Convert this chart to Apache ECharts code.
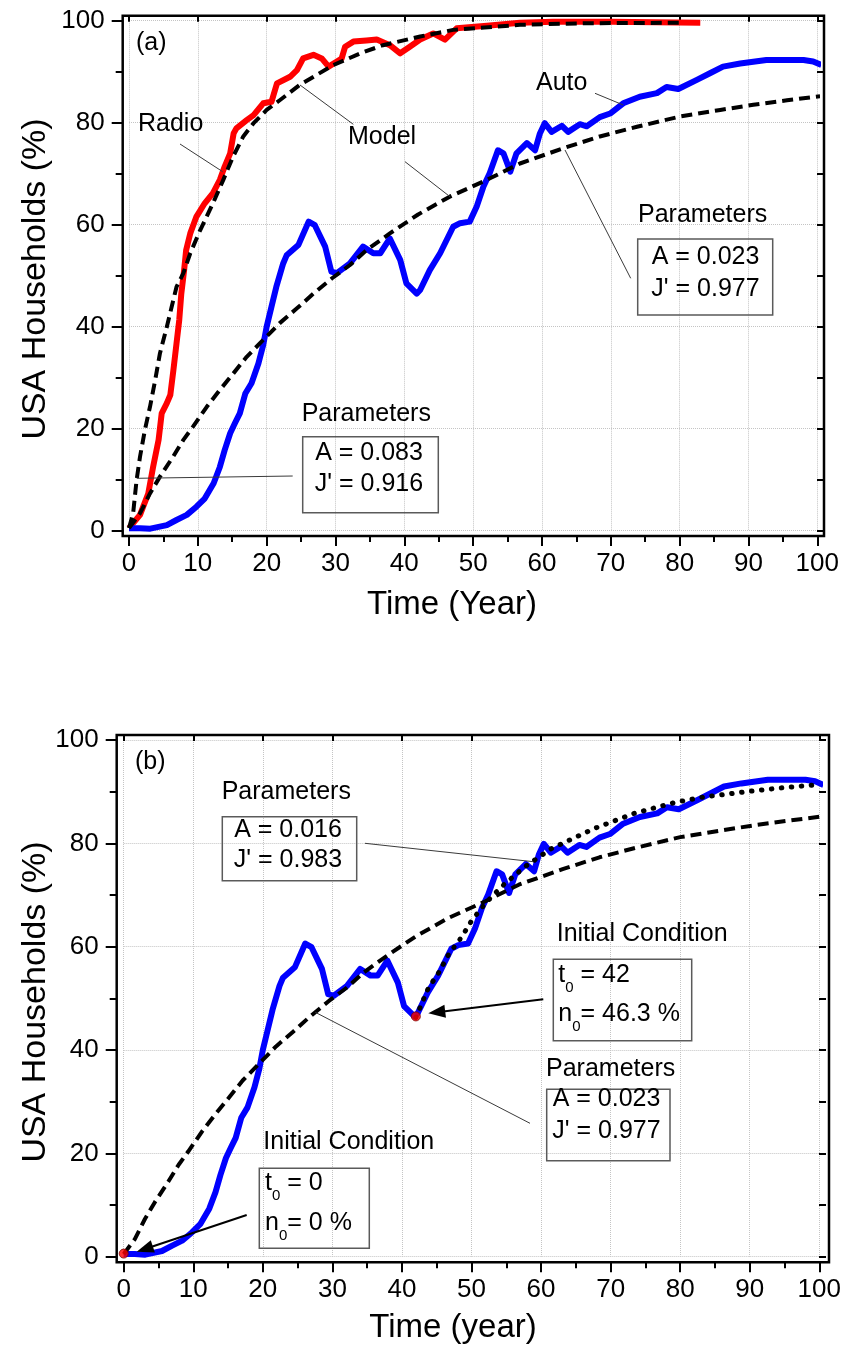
<!DOCTYPE html>
<html><head><meta charset="utf-8">
<script src="https://cdn.jsdelivr.net/npm/echarts@6/dist/echarts.min.js"></script>
<style>html,body{margin:0;padding:0;background:#fff}#c{width:844px;height:1352px}</style>
</head><body><div id="c"></div>
<script>
// ---------------- data ----------------
const xTickLabels = [0, 10, 20, 30, 40, 50, 60, 70, 80, 90, 100];
const yTickLabels = [0, 20, 40, 60, 80, 100];

// Radio adoption, % of USA households vs years
const radioData = [[0,0.5],[1.6,3.1],[2.8,7.3],[3.5,12.5],[4.3,17.8],[4.75,23],[5.5,25],[6.0,26.6],[6.45,31.5],[6.9,36.7],[7.3,41.3],[7.6,46.5],[8.0,51],[8.3,55],[8.9,58.3],[9.8,61.6],[11.0,64.2],[12.2,66.2],[13.2,68.8],[13.9,71.4],[14.7,74],[15.2,77.9],[15.6,78.9],[17.1,80.5],[18.1,81.5],[19.5,83.8],[20.7,84.1],[21.5,87.7],[23.4,89],[24.4,90.3],[25.3,92.6],[26.8,93.3],[28,92.6],[29,91],[30.2,92],[30.9,92.6],[31.4,94.9],[32.6,95.9],[34.5,96.1],[36,96.3],[37.9,95.2],[39.4,93.6],[40.8,94.9],[42.3,96.3],[44.2,97.5],[45.9,96.3],[47.6,98.5],[52,99],[56.8,99.6],[61.6,99.8],[70,99.8],[83,99.6]];
// Radio model (A = 0.083, J' = 0.916)
const radioModelData = [[0,0.5],[0.6,3.4],[1.1,9.9],[1.6,14.5],[2.3,19.7],[3.05,24.3],[3.8,29.5],[4.5,34.8],[5.5,40],[6.2,43.9],[6.9,47.8],[7.9,50.5],[8.9,54.4],[10.3,58.8],[12.2,64.2],[13.7,68.8],[15.1,73.3],[16.6,77.3],[18.1,79.9],[20,82.5],[21.9,84.4],[24.8,87.4],[27.3,89.4],[29.7,91.3],[33.6,93.6],[36.9,95.2],[42.3,96.9],[47.1,98.2],[56.8,99.2],[66.5,99.5],[80,99.6]];
// Auto adoption
const autoData = [[0,0.5],[1.6,0.5],[3.1,0.4],[5.5,1.1],[6.9,2.1],[8.4,3.1],[9.8,4.7],[11,6.3],[12.3,9.3],[13.2,12.5],[13.9,15.8],[14.7,19.1],[15.4,21.1],[16.1,23],[16.9,26.9],[17.8,28.9],[18.8,32.8],[19.5,36.4],[20,40],[20.7,43.9],[21.4,47.8],[22.4,52.4],[22.9,54],[24.6,56],[26.1,60.6],[27,59.9],[28.5,55.7],[29.4,50.8],[30.2,50.5],[32.1,52.4],[34,55.7],[35.5,54.4],[36.5,54.4],[37.9,57.3],[39.4,53.1],[40.3,48.5],[41.8,46.5],[42.3,47.2],[43.7,51.1],[45.2,54.4],[47.1,59.6],[48.1,60.3],[49.5,60.6],[50.5,63.5],[51.5,67.5],[52.4,70.1],[53.6,74.6],[54.4,74],[55.4,70.4],[56.3,74],[57.8,76],[59,74.6],[59.7,77.9],[60.4,79.9],[61.4,78.2],[62.9,79.4],[63.8,78.2],[65.5,79.7],[66.5,79.3],[68.4,81.1],[69.9,81.8],[71.8,83.8],[74.2,85.1],[76.7,85.8],[78.1,87],[79.8,86.6],[82.5,88.4],[84.4,89.7],[86.3,91],[88.8,91.6],[92.6,92.3],[98,92.3],[99.4,92],[100.6,91.3]];
// Auto model from t0 = 0 (A = 0.023, J' = 0.977)
const autoModelData = [[0,0.5],[1.6,3.4],[3.05,7.3],[4.5,10.6],[6.4,14.5],[7.9,17.8],[9.3,20.4],[11.3,24.3],[13.2,27.6],[15.2,30.9],[17.1,34.1],[19.5,37.4],[21.9,40.7],[24.4,43.6],[26.8,46.5],[29.5,49.5],[32.1,52.1],[34.5,55],[37.9,58.3],[42,62],[46.6,65.5],[52,68.8],[56.8,72],[63.1,75],[68.4,77.3],[73.8,79.2],[80,81.2],[85.9,82.5],[90.7,83.5],[95.6,84.4],[100.4,85.2]];
// Auto model from t0 = 42, n0 = 46.3 % (A = 0.016, J' = 0.983)
const autoModel42Data = [[42,46.3],[43.8,52],[45.3,55],[46.7,58.5],[48.6,61.9],[50,65],[52,68.4],[54.3,71.6],[57.7,75.5],[61.5,79],[67.7,82.9],[73.4,85.8],[79.2,87.9],[83.5,89],[90.8,90.2],[95,90.8],[99.4,91.3]];
// Initial conditions
const initialPoints = [[0,0.6],[42,46.5]];

// ---------------- chart ----------------
const FONT = '"Liberation Sans", Arial, Helvetica, sans-serif';
const chart = echarts.init(document.getElementById('c'), null, {renderer: 'canvas'});

// plot frames (pixel rectangles) and data-grid placements
const P = [
  {frame: {x: 122.7, y: 15.7, w: 701.3, h: 520.3}, grid: {left: 129, top: 20.7, width: 688.3, height: 510}},
  {frame: {x: 116.7, y: 735, w: 712.3, h: 527.3}, grid: {left: 123.7, top: 740, width: 698.6, height: 516.7}}
];

const tickStyle = {color: '#000', width: 2};
function axesFor(g) {
  const f = P[g].frame, gr = P[g].grid;
  const offB = (f.y + f.h) - (gr.top + gr.height);
  const offT = gr.top - f.y;
  const offL = gr.left - f.x;
  const offR = (f.x + f.w) - (gr.left + gr.width);
  const x = [{
    type: 'value', gridIndex: g, position: 'bottom', offset: offB, min: 0, max: 100, interval: 10,
    axisLine: {show: false, onZero: false},
    axisTick: {show: true, inside: false, length: 10, lineStyle: tickStyle},
    minorTick: {show: true, splitNumber: 2, length: 6, lineStyle: tickStyle},
    axisLabel: {show: true, fontSize: 26, fontFamily: FONT, color: '#000', margin: 15,
      formatter: v => xTickLabels.includes(v) ? String(v) : ''},
    splitLine: {show: true, lineStyle: {color: '#c4c4c4', type: 'dotted', width: 1}},
    minorSplitLine: {show: false}
  }, {
    type: 'value', gridIndex: g, position: 'top', offset: offT, min: 0, max: 100, interval: 10,
    axisLine: {show: false, onZero: false},
    axisTick: {show: true, inside: true, length: 6, lineStyle: tickStyle},
    axisLabel: {show: false}, splitLine: {show: false}
  }];
  const y = [{
    type: 'value', gridIndex: g, position: 'left', offset: offL, min: 0, max: 100, interval: 20,
    axisLine: {show: false, onZero: false},
    axisTick: {show: true, inside: false, length: 11, lineStyle: tickStyle},
    minorTick: {show: true, splitNumber: 2, length: 7, lineStyle: tickStyle},
    axisLabel: {show: true, fontSize: 26, fontFamily: FONT, color: '#000', margin: 18,
      formatter: v => yTickLabels.includes(v) ? String(v) : ''},
    splitLine: {show: true, lineStyle: {color: '#c4c4c4', type: 'dotted', width: 1}},
    minorSplitLine: {show: false}
  }, {
    type: 'value', gridIndex: g, position: 'right', offset: offR, min: 0, max: 100, interval: 10,
    axisLine: {show: false, onZero: false},
    axisTick: {show: true, inside: true, length: 7, lineStyle: tickStyle},
    axisLabel: {show: false}, splitLine: {show: false}
  }];
  return {x, y};
}
const a0 = axesFor(0), a1 = axesFor(1);

function line(name, data, xi, yi, color, width, type, z) {
  return {
    name, type: 'line', data, xAxisIndex: xi, yAxisIndex: yi, showSymbol: false, symbol: 'none',
    clip: false, smooth: false, z: z || 2, silent: true,
    lineStyle: {color, width, type: type || 'solid', cap: type && Array.isArray(type) && type[0] < 2 ? 'round' : 'butt', join: 'round'}
  };
}
const DASH = [11, 6];
const DOT = [0.5, 9.5];

// ---------------- annotations ----------------
const G = [];
function txt(x, y, text, size, align, extra) {
  G.push({
    type: 'text', x, y, z: 50,
    style: Object.assign({text, fill: '#000', fontSize: size || 25, fontFamily: FONT,
      align: align || 'left', verticalAlign: 'middle', textAlign: align || 'left', textVerticalAlign: 'middle'}, extra || {})
  });
}
function sub(x, y, main, subs, rest) {
  G.push({
    type: 'text', x, y, z: 50,
    style: {
      text: '{n|' + main + '}{s|' + subs + '}{n|' + rest + '}',
      fontFamily: FONT, fill: '#000', align: 'left', verticalAlign: 'middle', textAlign: 'left', textVerticalAlign: 'middle',
      rich: {
        n: {fontSize: 25, lineHeight: 40, verticalAlign: 'middle', fontFamily: FONT, fill: '#000'},
        s: {fontSize: 15, lineHeight: 13, verticalAlign: 'bottom', fontFamily: FONT, fill: '#000'}
      }
    }
  });
}
function lead(x1, y1, x2, y2) {
  G.push({type: 'line', z: 40, shape: {x1, y1, x2, y2}, style: {stroke: '#3a3a3a', lineWidth: 1}});
}
function box(x, y, w, h) {
  G.push({type: 'rect', z: 40, shape: {x, y, width: w, height: h}, style: {fill: 'none', stroke: '#5a5a5a', lineWidth: 1.5}});
}
function arrow(x1, y1, x2, y2) {
  const ang = Math.atan2(y2 - y1, x2 - x1), L = 17, W = 6.5;
  const c = Math.cos(ang), s = Math.sin(ang);
  const bx = x2 - L * c, by = y2 - L * s;
  G.push({type: 'line', z: 45, shape: {x1, y1, x2: bx + 2 * c, y2: by + 2 * s}, style: {stroke: '#000', lineWidth: 2}});
  G.push({type: 'polygon', z: 45, shape: {points: [[x2, y2], [bx - W * s, by + W * c], [bx + W * s, by - W * c]]}, style: {fill: '#000'}});
}
// frames
P.forEach(p => G.push({type: 'rect', z: 60, shape: {x: p.frame.x, y: p.frame.y, width: p.frame.w, height: p.frame.h}, style: {fill: 'none', stroke: '#000', lineWidth: 2.5}}));

// axis titles
G.push({type: 'text', x: 36, y: 279, rotation: Math.PI / 2, z: 50, style: {text: 'USA Households (%)', fontSize: 34, fontFamily: FONT, fill: '#000', align: 'center', verticalAlign: 'middle', textAlign: 'center', textVerticalAlign: 'middle'}});
G.push({type: 'text', x: 36, y: 1002, rotation: Math.PI / 2, z: 50, style: {text: 'USA Households (%)', fontSize: 34, fontFamily: FONT, fill: '#000', align: 'center', verticalAlign: 'middle', textAlign: 'center', textVerticalAlign: 'middle'}});
txt(452, 605, 'Time (Year)', 33, 'center');
txt(453, 1328, 'Time (year)', 33, 'center');

// panel (a)
txt(136, 43, '(a)', 25);
txt(138, 124, 'Radio', 25);
lead(180, 144, 222.7, 171.7);
txt(348, 137, 'Model', 25);
lead(353.3, 124.3, 300, 85);
lead(405, 161.7, 450, 196.7);
txt(536, 83, 'Auto', 25);
lead(595, 93.3, 623.3, 105);
txt(638, 215.5, 'Parameters', 25);
box(637.7, 239, 135, 76);
txt(705.5, 257.5, 'A = 0.023', 25, 'center');
txt(705.5, 289, "J' = 0.977", 25, 'center');
lead(565, 150, 630.7, 278.3);
txt(301.7, 414, 'Parameters', 25);
box(302.7, 436.7, 135.6, 76);
txt(369, 453.5, 'A = 0.083', 25, 'center');
txt(369, 484, "J' = 0.916", 25, 'center');
lead(136.7, 478.3, 292.7, 476);

// panel (b)
txt(135, 762.5, '(b)', 25);
txt(221.7, 792.5, 'Parameters', 25);
box(222.3, 816.7, 134.4, 64);
txt(288, 830, 'A = 0.016', 25, 'center');
txt(288, 860, "J' = 0.983", 25, 'center');
lead(365, 843.3, 533.3, 861.7);
txt(556.7, 934, 'Initial Condition', 25);
box(553.3, 959.3, 138.4, 81.4);
sub(558.3, 975, 't', '0', ' = 42');
sub(558.3, 1014, 'n', '0', '= 46.3 %');
arrow(543.3, 999.3, 428.3, 1013.3);
txt(546, 1069, 'Parameters', 25);
box(546.7, 1089.3, 123.3, 71.4);
txt(606.5, 1099, 'A = 0.023', 25, 'center');
txt(606.5, 1131, "J' = 0.977", 25, 'center');
lead(530, 1123.3, 315.3, 1012.3);
txt(263.3, 1142.3, 'Initial Condition', 25);
box(259.3, 1168.3, 110, 80);
sub(265, 1183, 't', '0', ' = 0');
sub(265, 1223, 'n', '0', '= 0 %');
arrow(246.7, 1215, 136.7, 1251.7);

const option = {
  animation: false,
  backgroundColor: '#fff',
  grid: P.map(p => Object.assign({containLabel: false, show: false}, p.grid)),
  xAxis: a0.x.concat(a1.x),
  yAxis: a0.y.concat(a1.y),
  series: [
    line('Radio', radioData, 0, 0, '#ff0000', 6),
    line('Auto', autoData, 0, 0, '#0000ff', 6),
    line('Radio model', radioModelData, 0, 0, '#000', 4, DASH, 3),
    line('Auto model', autoModelData, 0, 0, '#000', 4, DASH, 3),
    line('Auto (b)', autoData, 2, 2, '#0000ff', 6),
    line('Auto model (b)', autoModelData, 2, 2, '#000', 4, DASH, 3),
    line('Auto model t0=42', autoModel42Data, 2, 2, '#000', 5, DOT, 4),
    {name: 'Initial condition', type: 'scatter', xAxisIndex: 2, yAxisIndex: 2, data: initialPoints, symbolSize: 9, z: 5, silent: true,
      itemStyle: {color: '#ff0000', borderColor: '#7a0000', borderWidth: 1}}
  ],
  graphic: {elements: G}
};
chart.setOption(option);
</script>
</body></html>
